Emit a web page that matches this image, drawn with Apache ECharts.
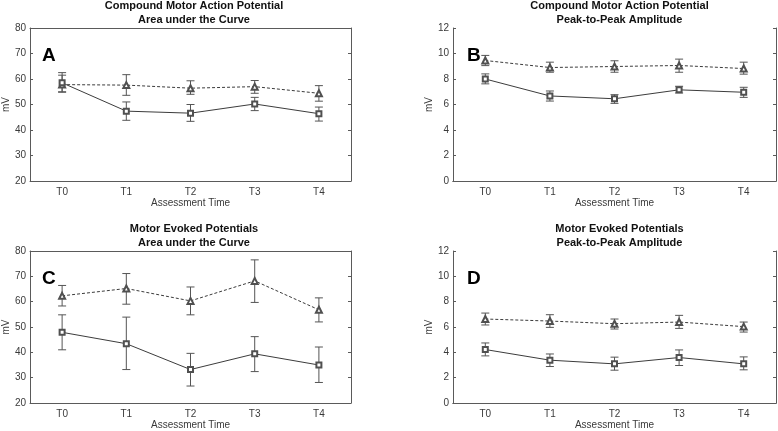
<!DOCTYPE html>
<html>
<head>
<meta charset="utf-8">
<script src="https://cdn.jsdelivr.net/npm/echarts@6/dist/echarts.min.js"></script>
<style>
html,body{margin:0;padding:0;background:#fff;}
#chart{width:778px;height:431px;}
</style>
</head>
<body>
<div id="chart"></div>
<script>
const categories = ['T0', 'T1', 'T2', 'T3', 'T4'];

// Panel A: CMAP area under the curve
const aDashMean  = [57.8, 57.6, 56.4, 57.0, 54.4];
const aDashLow   = [55.0, 53.6, 54.0, 54.4, 51.3];
const aDashHigh  = [61.5, 61.7, 59.3, 59.4, 57.4];
const aSolidMean = [58.5, 47.4, 46.6, 50.2, 46.4];
const aSolidLow  = [54.8, 43.8, 43.4, 47.6, 43.5];
const aSolidHigh = [62.5, 51.0, 50.0, 52.8, 49.0];

// Panel B: CMAP peak-to-peak amplitude
const bDashMean  = [9.45, 8.90, 8.98, 9.06, 8.82];
const bDashLow   = [9.05, 8.53, 8.53, 8.53, 8.38];
const bDashHigh  = [9.85, 9.32, 9.43, 9.56, 9.32];
const bSolidMean = [8.00, 6.67, 6.45, 7.15, 6.96];
const bSolidLow  = [7.62, 6.27, 6.09, 6.90, 6.56];
const bSolidHigh = [8.40, 7.06, 6.77, 7.43, 7.35];

// Panel C: MEP area under the curve
const cDashMean  = [62.3, 65.2, 60.3, 68.2, 56.8];
const cDashLow   = [58.3, 59.0, 54.8, 59.7, 52.0];
const cDashHigh  = [66.4, 71.1, 65.8, 76.5, 61.5];
const cSolidMean = [47.9, 43.4, 33.2, 39.4, 35.0];
const cSolidLow  = [41.0, 33.2, 26.7, 32.4, 28.1];
const cSolidHigh = [54.8, 53.9, 39.6, 46.2, 42.1];

// Panel D: MEP peak-to-peak amplitude
const dDashMean  = [6.63, 6.47, 6.26, 6.39, 6.03];
const dDashLow   = [6.16, 5.97, 5.84, 5.89, 5.60];
const dDashHigh  = [7.10, 6.97, 6.63, 6.92, 6.39];
const dSolidMean = [4.22, 3.38, 3.09, 3.59, 3.09];
const dSolidLow  = [3.72, 2.88, 2.59, 2.96, 2.62];
const dSolidHigh = [4.74, 3.87, 3.62, 4.19, 3.64];

// axis ranges [min, max, interval]
const areaRange = [20, 80, 10];
const ampRange  = [0, 12, 2];

const titlesA = 'Compound Motor Action Potential\nArea under the Curve';
const titlesB = 'Compound Motor Action Potential\nPeak-to-Peak Amplitude';
const titlesC = 'Motor Evoked Potentials\nArea under the Curve';
const titlesD = 'Motor Evoked Potentials\nPeak-to-Peak Amplitude';
const letters = ['A', 'B', 'C', 'D'];
const xName = 'Assessment Time';
const yName = 'mV';

const FONT = '"Liberation Sans", Arial, Helvetica, sans-serif';
const AXIS_COLOR = '#5a5a5a';
const TEXT_COLOR = '#3a3a3a';
const LINE_COLOR = '#3c3c3c';
const MARK_COLOR = '#505050';
const ERR_COLOR = '#555555';

const panels = [
  { title: titlesA, range: areaRange, grid: {left: 27, top: 28, width: 324, height: 153}, titleTop: -6, letterLeft: 42,
    dm: aDashMean, dl: aDashLow, dh: aDashHigh, sm: aSolidMean, sl: aSolidLow, sh: aSolidHigh },
  { title: titlesB, range: ampRange, grid: {left: 453, top: 28, width: 323, height: 153}, titleTop: -6, letterLeft: 467,
    dm: bDashMean, dl: bDashLow, dh: bDashHigh, sm: bSolidMean, sl: bSolidLow, sh: bSolidHigh },
  { title: titlesC, range: areaRange, grid: {left: 27, top: 251, width: 324, height: 153}, titleTop: 217, letterLeft: 42,
    dm: cDashMean, dl: cDashLow, dh: cDashHigh, sm: cSolidMean, sl: cSolidLow, sh: cSolidHigh },
  { title: titlesD, range: ampRange, grid: {left: 453, top: 251, width: 323, height: 153}, titleTop: 217, letterLeft: 467,
    dm: dDashMean, dl: dDashLow, dh: dDashHigh, sm: dSolidMean, sl: dSolidLow, sh: dSolidHigh }
];

const grids = [], xAxes = [], yAxes = [], series = [], titles = [], graphics = [];

function errRender(params, api) {
  const x = api.value(0);
  const lo = api.coord([x, api.value(1)]);
  const hi = api.coord([x, api.value(2)]);
  const w = 4;
  const style = { stroke: ERR_COLOR, lineWidth: 1 };
  return {
    type: 'group',
    children: [
      { type: 'line', shape: { x1: lo[0], y1: lo[1], x2: hi[0], y2: hi[1] }, style: style },
      { type: 'line', shape: { x1: lo[0] - w, y1: lo[1], x2: lo[0] + w, y2: lo[1] }, style: style },
      { type: 'line', shape: { x1: hi[0] - w, y1: hi[1], x2: hi[0] + w, y2: hi[1] }, style: style }
    ]
  };
}

panels.forEach((p, i) => {
  grids.push(Object.assign({ containLabel: false }, p.grid));
  const cx = p.grid.left + p.grid.width / 2;
  titles.push({
    text: p.title,
    left: cx, top: p.titleTop,
    textAlign: 'center',
    textStyle: { fontFamily: FONT, fontSize: 11, fontWeight: 'bold', color: '#111', lineHeight: 14 }
  });
  graphics.push({
    type: 'text', left: p.letterLeft, top: p.grid.top + 18,
    style: { text: letters[i], font: 'bold 19px ' + FONT, fill: '#000' }
  });
  // bottom x axis
  xAxes.push({
    type: 'category', gridIndex: i, position: 'bottom', data: categories, boundaryGap: true,
    axisLine: { lineStyle: { color: AXIS_COLOR, width: 1 } },
    axisTick: { inside: true, alignWithLabel: true, length: 3, lineStyle: { color: AXIS_COLOR } },
    axisLabel: { fontFamily: FONT, fontSize: 10, color: TEXT_COLOR, margin: 6 },
    name: xName, nameLocation: 'middle', nameGap: 17,
    nameTextStyle: { fontFamily: FONT, fontSize: 10, color: TEXT_COLOR },
    splitLine: { show: false }
  });
  // top x axis (box)
  xAxes.push({
    type: 'category', gridIndex: i, position: 'top', data: categories, boundaryGap: true,
    axisLine: { lineStyle: { color: AXIS_COLOR, width: 1 } },
    axisTick: { inside: true, alignWithLabel: true, length: 3, lineStyle: { color: AXIS_COLOR } },
    axisLabel: { show: false }, splitLine: { show: false }
  });
  // left y axis
  yAxes.push({
    type: 'value', gridIndex: i, position: 'left',
    min: p.range[0], max: p.range[1], interval: p.range[2],
    axisLine: { show: true, lineStyle: { color: AXIS_COLOR, width: 1 } },
    axisTick: { show: true, inside: true, length: 3, lineStyle: { color: AXIS_COLOR } },
    axisLabel: { fontFamily: FONT, fontSize: 10, color: TEXT_COLOR, margin: 4 },
    name: yName, nameLocation: 'middle', nameGap: 17,
    nameTextStyle: { fontFamily: FONT, fontSize: 10, color: TEXT_COLOR },
    splitLine: { show: false }
  });
  // right y axis (box)
  yAxes.push({
    type: 'value', gridIndex: i, position: 'right',
    min: p.range[0], max: p.range[1], interval: p.range[2],
    axisLine: { show: true, lineStyle: { color: AXIS_COLOR, width: 1 } },
    axisTick: { show: true, inside: true, length: 3, lineStyle: { color: AXIS_COLOR } },
    axisLabel: { show: false }, splitLine: { show: false }
  });
  const xi = i * 2, yi = i * 2;
  series.push({
    type: 'custom', xAxisIndex: xi, yAxisIndex: yi, renderItem: errRender,
    data: categories.map((c, k) => [k, p.dl[k], p.dh[k]]), z: 2, silent: true
  });
  series.push({
    type: 'custom', xAxisIndex: xi, yAxisIndex: yi, renderItem: errRender,
    data: categories.map((c, k) => [k, p.sl[k], p.sh[k]]), z: 2, silent: true
  });
  series.push({
    type: 'line', xAxisIndex: xi, yAxisIndex: yi, data: p.dm,
    symbol: 'emptyTriangle', symbolSize: 6,
    lineStyle: { color: LINE_COLOR, width: 1, type: [3, 2] },
    itemStyle: { color: MARK_COLOR, borderColor: MARK_COLOR, borderWidth: 0.8 },
    z: 3, silent: true, animation: false
  });
  series.push({
    type: 'line', xAxisIndex: xi, yAxisIndex: yi, data: p.sm,
    symbol: 'emptyRect', symbolSize: 5,
    lineStyle: { color: LINE_COLOR, width: 1 },
    itemStyle: { color: MARK_COLOR, borderColor: MARK_COLOR, borderWidth: 0.8 },
    z: 3, silent: true, animation: false
  });
});

const chart = echarts.init(document.getElementById('chart'), null, { renderer: 'canvas' });
chart.setOption({
  animation: false,
  backgroundColor: '#fff',
  title: titles,
  grid: grids,
  xAxis: xAxes,
  yAxis: yAxes,
  series: series,
  graphic: graphics
});
</script>
</body>
</html>
